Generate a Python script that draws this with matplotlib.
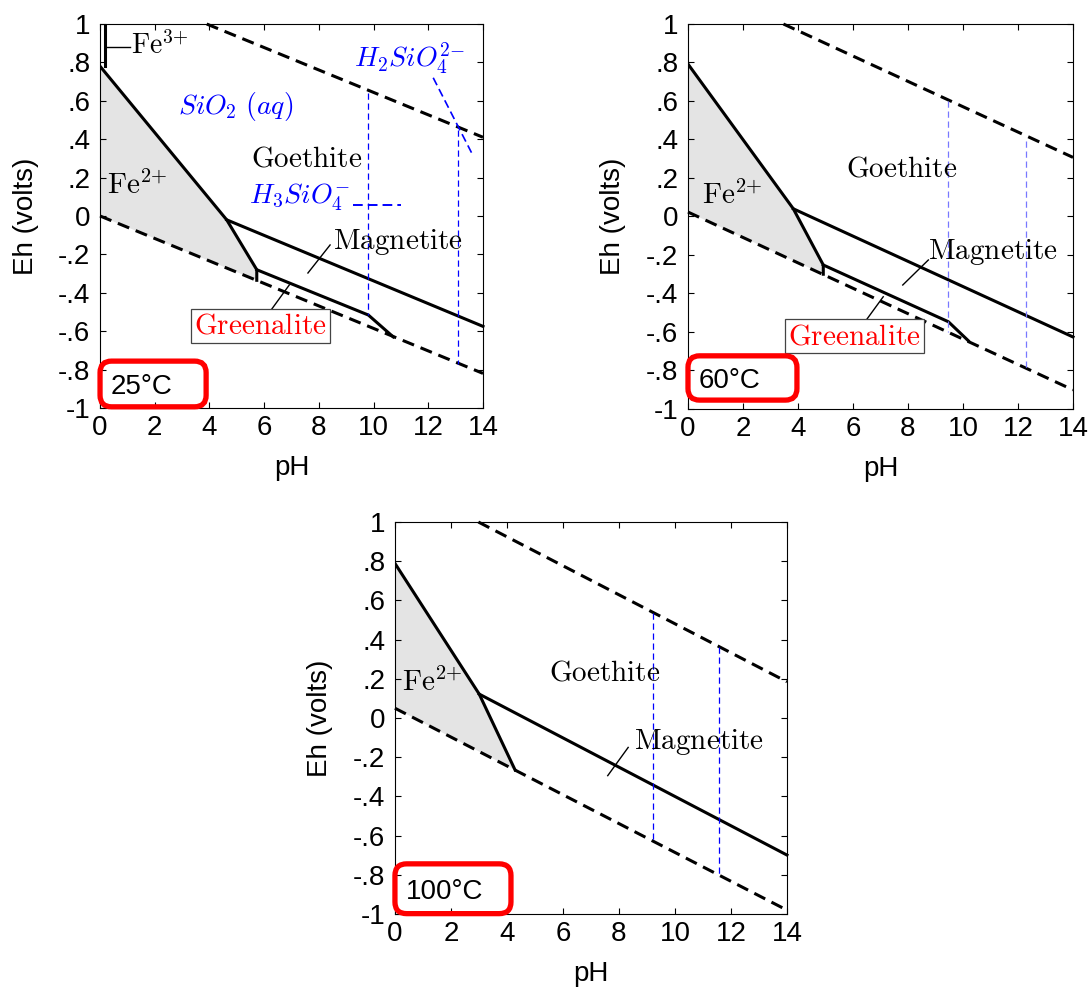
import matplotlib
matplotlib.use("Agg")
import matplotlib.pyplot as plt
from matplotlib.patches import FancyBboxPatch

plt.rcParams['font.family'] = ['Liberation Sans', 'DejaVu Sans']
plt.rcParams['mathtext.fontset'] = 'cm'

# ticks
ph_ticks = [0, 2, 4, 6, 8, 10, 12, 14]
eh_ticks = [1, 0.8, 0.6, 0.4, 0.2, 0, -0.2, -0.4, -0.6, -0.8, -1]
eh_labels = ['1', '.8', '.6', '.4', '.2', '0', '-.2', '-.4', '-.6', '-.8', '-1']

# ---- 25 C ----
t25_o2_ph = [3.9, 14];  t25_o2_eh = [1.0, 0.41]
t25_h2_ph = [0, 14];    t25_h2_eh = [0.0, -0.82]
t25_fe2_ph = [0, 4.63, 5.73, 5.73];  t25_fe2_eh = [0.78, -0.02, -0.28, -0.335]
t25_goe_ph = [4.63, 14];  t25_goe_eh = [-0.02, -0.575]
t25_grn_ph = [5.73, 9.81, 10.72];  t25_grn_eh = [-0.28, -0.516, -0.63]
t25_fe3_ph = [0.17, 0.17];  t25_fe3_eh = [0.78, 1.0]
t25_si_ph = [9.81, 13.1]; t25_si_top = [0.64, 0.45]; t25_si_bot = [-0.516, -0.77]
t25_si_h_ph = [9.25, 11.0]; t25_si_h_eh = [0.057, 0.057]
t25_si_d_ph = [12.18, 13.58]; t25_si_d_eh = [0.72, 0.33]

# ---- 60 C ----
t60_o2_ph = [3.47, 14];  t60_o2_eh = [1.0, 0.307]
t60_h2_ph = [0, 14];     t60_h2_eh = [0.023, -0.901]
t60_fe2_ph = [0, 3.83, 4.92, 4.92];  t60_fe2_eh = [0.792, 0.04, -0.252, -0.30]
t60_goe_ph = [3.83, 14];  t60_goe_eh = [0.04, -0.626]
t60_grn_ph = [4.92, 9.47, 10.19];  t60_grn_eh = [-0.252, -0.547, -0.645]
t60_si_ph = [9.47, 12.28]; t60_si_top = [0.6, 0.39]; t60_si_bot = [-0.6, -0.787]

# ---- 100 C ----
t100_o2_ph = [2.98, 14];  t100_o2_eh = [1.0, 0.185]
t100_h2_ph = [0, 14];     t100_h2_eh = [0.05, -0.98]
t100_fe2_ph = [0, 3.01, 4.29];  t100_fe2_eh = [0.789, 0.122, -0.265]
t100_goe_ph = [3.01, 14];  t100_goe_eh = [0.122, -0.699]
t100_si_ph = [9.23, 11.58]; t100_si_top = [0.537, 0.364]; t100_si_bot = [-0.62, -0.80]

serif = dict(fontsize=21, color='black', ha='center', va='center')
blue_it = dict(fontsize=20, color='#0000ff', ha='center', va='center')
FE2 = r'$\mathrm{Fe}^{2{+}}$'

fig = plt.figure(figsize=(10.91, 9.96), dpi=100)
ax25 = fig.add_axes([0.0917, 0.5904, 0.351, 0.3855])
ax60 = fig.add_axes([0.6306, 0.5894, 0.3529, 0.3865])
ax100 = fig.add_axes([0.362, 0.0823, 0.3593, 0.3936])


def setup(ax):
    ax.set_xlim(0, 14)
    ax.set_ylim(-1, 1)
    ax.set_xticks(ph_ticks)
    ax.set_yticks(eh_ticks)
    ax.set_yticklabels(eh_labels)
    ax.tick_params(direction='in', top=True, right=True, length=4, width=0.8,
                   labelsize=20)
    ax.tick_params(axis='y', pad=7)
    ax.tick_params(axis='x', pad=5)
    for s in ax.spines.values():
        s.set_linewidth(0.8)
    ax.set_xlabel('pH', fontsize=20, labelpad=10)
    ax.set_ylabel('Eh (volts)', fontsize=20, labelpad=14)


def base(ax, o2, h2, fe2, goe, h2_at_fe2_left):
    # water stability limits
    ax.plot(o2[0], o2[1], color='black', lw=2.2, ls=(0, (4, 2.3)), clip_on=False)
    ax.plot(h2[0], h2[1], color='black', lw=2.2, ls=(0, (4, 2.3)), clip_on=False)
    # Fe2+ field
    ax.fill(list(fe2[0]) + [0], list(fe2[1]) + [h2_at_fe2_left],
            color='#e4e4e4', lw=0, zorder=0)
    ax.plot(fe2[0], fe2[1], color='black', lw=2.2, solid_joinstyle='miter')
    ax.plot(goe[0], goe[1], color='black', lw=2.2, clip_on=False)


def silica(ax, xs, tops, bots, color):
    for x, t, b in zip(xs, tops, bots):
        ax.plot([x, x], [t, b], color=color, lw=0.9, ls=(0, (5, 3)))


def temp_box(ax, w, h, y0, label):
    box = FancyBboxPatch((0.0, y0), w, h,
                         boxstyle='round,pad=0,rounding_size=0.03',
                         transform=ax.transAxes, fill=False, edgecolor='#ff0000',
                         lw=3.8, clip_on=False, zorder=10)
    ax.add_patch(box)
    ax.text(0.027, y0 + h / 2 - 0.008, label, transform=ax.transAxes, fontsize=20,
            ha='left', va='center', zorder=11)


def greenalite(ax, x, y, lx, ly):
    ax.plot(lx, ly, color='black', lw=1.0)
    ax.text(x, y, r'$\mathrm{Greenalite}$', fontsize=21, color='#ff0000',
            ha='center', va='center',
            bbox=dict(boxstyle='square,pad=0.1', facecolor='white',
                      edgecolor='#444444', lw=0.9))


# ---------- 25 C ----------
ax = ax25
setup(ax)
base(ax, (t25_o2_ph, t25_o2_eh), (t25_h2_ph, t25_h2_eh),
     (t25_fe2_ph, t25_fe2_eh), (t25_goe_ph, t25_goe_eh), 0.0)
ax.plot(t25_grn_ph, t25_grn_eh, color='black', lw=2.2)
ax.plot(t25_fe3_ph, t25_fe3_eh, color='black', lw=2.2)
ax.plot([0.17, 1.1], [0.88, 0.88], color='black', lw=1.0)
ax.text(1.13, 0.885, r'$\mathrm{Fe}^{3{+}}$', fontsize=20, ha='left', va='center')
silica(ax, t25_si_ph, t25_si_top, t25_si_bot, '#0000ff')
ax.plot(t25_si_h_ph, t25_si_h_eh, color='#0000ff', lw=1.4, ls=(0, (5, 2.6)))
ax.plot(t25_si_d_ph, t25_si_d_eh, color='#0000ff', lw=1.2, ls=(0, (5, 2.6)))
ax.text(4.96, 0.57, r'$SiO_2\ (aq)$', **blue_it)
ax.text(11.33, 0.82, r'$H_2SiO_4^{2{-}}$', **blue_it)
ax.text(7.3, 0.094, r'$H_3SiO_4^{{-}}$', **blue_it)
ax.text(7.55, 0.30, r'$\mathrm{Goethite}$', **serif)
ax.text(1.37, 0.16, FE2, **serif)
ax.text(10.9, -0.134, r'$\mathrm{Magnetite}$', **serif)
ax.plot([8.41, 7.6], [-0.151, -0.297], color='black', lw=1.0)
greenalite(ax, 5.87, -0.573, [6.15, 6.92], [-0.51, -0.359])
temp_box(ax, 0.277, 0.119, 0.003, '25°C')

# ---------- 60 C ----------
ax = ax60
setup(ax)
base(ax, (t60_o2_ph, t60_o2_eh), (t60_h2_ph, t60_h2_eh),
     (t60_fe2_ph, t60_fe2_eh), (t60_goe_ph, t60_goe_eh), 0.023)
ax.plot(t60_grn_ph, t60_grn_eh, color='black', lw=2.2)
silica(ax, t60_si_ph, t60_si_top, t60_si_bot, '#7878ff')
ax.text(7.77, 0.247, r'$\mathrm{Goethite}$', **serif)
ax.text(1.6, 0.11, FE2, **serif)
ax.text(11.1, -0.183, r'$\mathrm{Magnetite}$', **serif)
ax.plot([8.74, 7.81], [-0.226, -0.356], color='black', lw=1.0)
greenalite(ax, 6.06, -0.621, [6.35, 7.1], [-0.564, -0.417])
temp_box(ax, 0.283, 0.115, 0.023, '60°C')

# ---------- 100 C ----------
ax = ax100
setup(ax)
base(ax, (t100_o2_ph, t100_o2_eh), (t100_h2_ph, t100_h2_eh),
     (t100_fe2_ph, t100_fe2_eh), (t100_goe_ph, t100_goe_eh), 0.05)
silica(ax, t100_si_ph, t100_si_top, t100_si_bot, '#0000ff')
ax.text(7.5, 0.23, r'$\mathrm{Goethite}$', **serif)
ax.text(1.33, 0.18, FE2, **serif)
ax.text(10.86, -0.12, r'$\mathrm{Magnetite}$', **serif)
ax.plot([8.33, 7.6], [-0.15, -0.294], color='black', lw=1.0)
temp_box(ax, 0.296, 0.127, 0.001, '100°C')

fig.savefig('out.png', dpi=100)
